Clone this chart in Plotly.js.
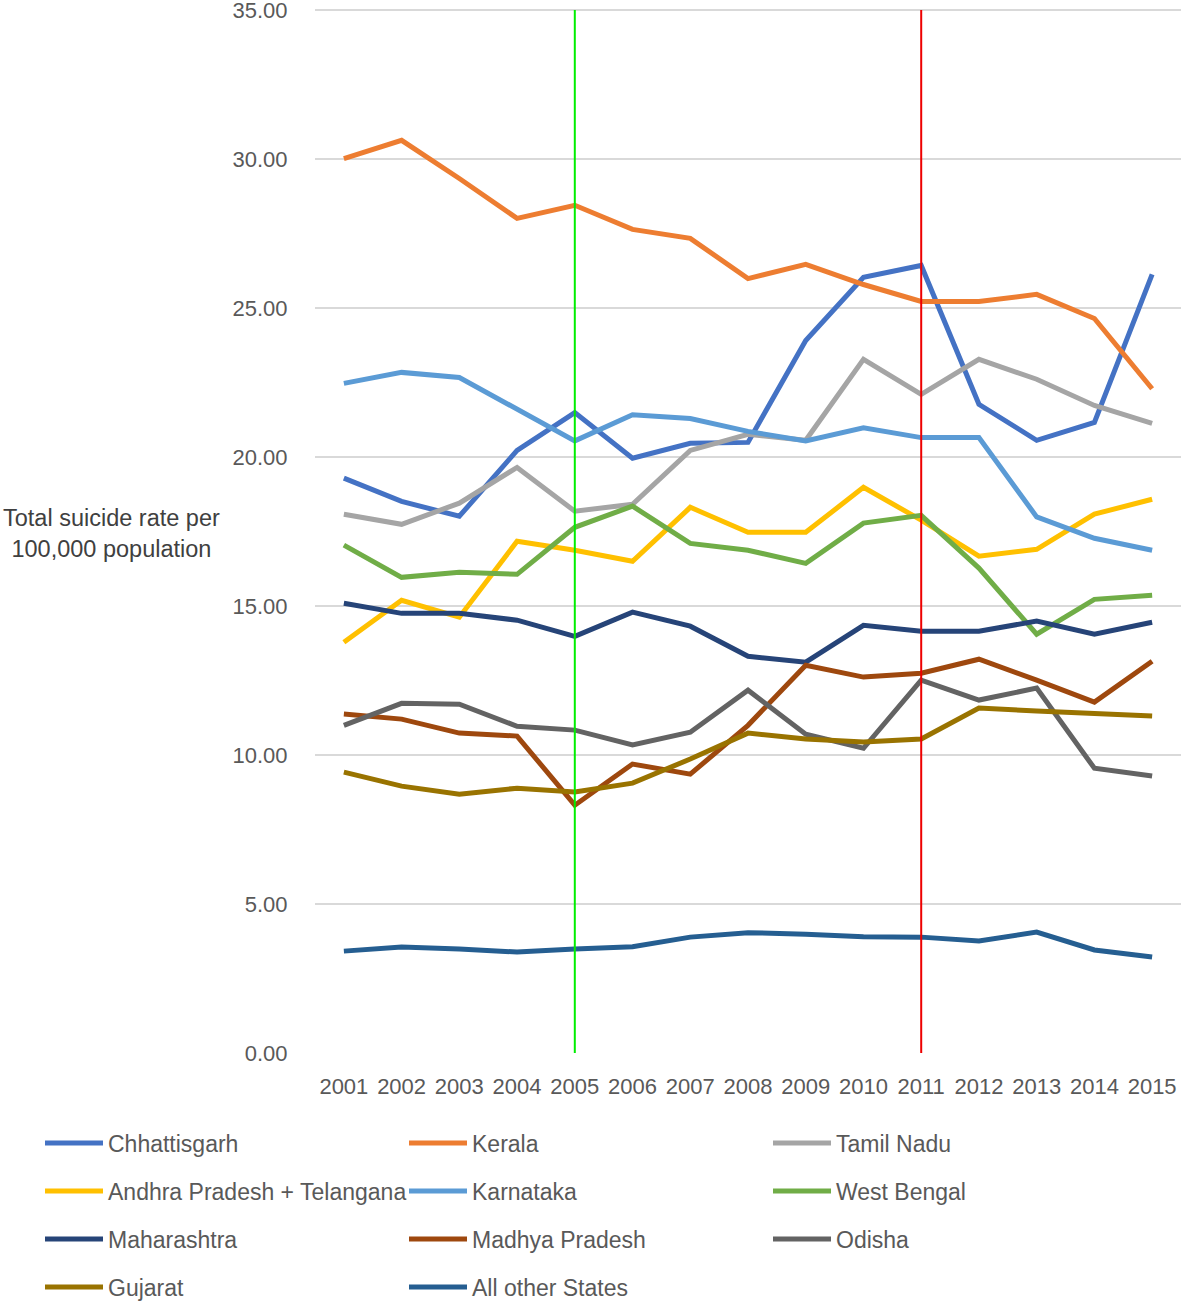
<!DOCTYPE html>
<html><head><meta charset="utf-8">
<script src="https://cdn.plot.ly/plotly-3.0.1.min.js"></script>
<style>html,body{margin:0;padding:0;background:#fff;}#chart{width:1181px;height:1302px;}</style>
</head><body><div id="chart"></div>
<script>
const years = [2001,2002,2003,2004,2005,2006,2007,2008,2009,2010,2011,2012,2013,2014,2015];
const chhattisgarh = [19.30,18.52,18.02,20.23,21.50,19.97,20.47,20.50,23.92,26.04,26.44,21.78,20.57,21.17,26.14];
const kerala       = [30.03,30.64,29.36,28.02,28.46,27.65,27.35,26.00,26.48,25.80,25.23,25.23,25.47,24.66,22.30];
const tamilNadu    = [18.09,17.75,18.46,19.66,18.19,18.42,20.23,20.77,20.57,23.29,22.11,23.29,22.62,21.74,21.14];
const andhra       = [13.79,15.20,14.63,17.18,16.88,16.51,18.32,17.48,17.48,18.99,17.89,16.68,16.91,18.09,18.59];
const karnataka    = [22.48,22.85,22.68,21.60,20.55,21.43,21.30,20.87,20.55,20.99,20.66,20.66,18.00,17.28,16.88];
const westBengal   = [17.05,15.97,16.14,16.07,17.65,18.36,17.11,16.88,16.44,17.79,18.05,16.28,14.06,15.23,15.37];
const maharashtra  = [15.10,14.76,14.76,14.53,13.99,14.80,14.33,13.32,13.12,14.36,14.16,14.16,14.50,14.06,14.46];
const madhyaPradesh= [11.38,11.21,10.74,10.64,8.32,9.70,9.36,11.00,13.02,12.62,12.75,13.22,12.52,11.78,13.15];
const odisha       = [11.00,11.74,11.71,10.97,10.84,10.34,10.77,12.18,10.70,10.23,12.52,11.85,12.25,9.56,9.30];
const gujarat      = [9.43,8.96,8.69,8.89,8.76,9.06,9.87,10.74,10.54,10.44,10.54,11.58,11.48,11.41,11.31];
const otherStates  = [3.42,3.56,3.49,3.39,3.49,3.57,3.89,4.04,3.99,3.90,3.89,3.76,4.06,3.46,3.22];
const markerYears = [2005, 2011];
const markerColors = ['#00EE00', '#EE0000'];
const yTicks = [0,5,10,15,20,25,30,35];

const series = [
  {name:'Chhattisgarh', y:chhattisgarh, color:'#4472C4', legend:'legend'},
  {name:'Kerala', y:kerala, color:'#ED7D31', legend:'legend'},
  {name:'Tamil Nadu', y:tamilNadu, color:'#A5A5A5', legend:'legend'},
  {name:'Andhra Pradesh + Telangana', y:andhra, color:'#FFC000', legend:'legend2'},
  {name:'Karnataka', y:karnataka, color:'#5B9BD5', legend:'legend2'},
  {name:'West Bengal', y:westBengal, color:'#70AD47', legend:'legend2'},
  {name:'Maharashtra', y:maharashtra, color:'#264478', legend:'legend3'},
  {name:'Madhya Pradesh', y:madhyaPradesh, color:'#9E480E', legend:'legend3'},
  {name:'Odisha', y:odisha, color:'#636363', legend:'legend3'},
  {name:'Gujarat', y:gujarat, color:'#997300', legend:'legend4'},
  {name:'All other States', y:otherStates, color:'#255E91', legend:'legend4'}
];

const FONT = 'Liberation Sans, Arial, sans-serif';
const traces = series.map(s => ({
  type:'scatter', mode:'lines', x:years, y:s.y, name:s.name,
  line:{color:s.color, width:5}, legend:s.legend
}));

const TOP = 9, BOT = 249, H = 1302 - TOP - BOT;
const rowY = [1143, 1191, 1239, 1287];
function mkLegend(i){
  return {
    orientation:'h', xref:'paper', yref:'paper',
    x: (40-315)/866, y: (1053-rowY[i])/H, xanchor:'left', yanchor:'middle',
    entrywidth:291, entrywidthmode:'pixels', itemwidth:58,
    font:{family:FONT, size:23, color:'#595959'}, bgcolor:'rgba(0,0,0,0)',
    traceorder:'normal'
  };
}

const shapes = markerYears.map((yr,i) => ({
  type:'line', xref:'x', yref:'paper', x0:yr, x1:yr, y0:0, y1:(1053-10)/H,
  line:{color:markerColors[i], width:2}, layer:'above'
}));

const layout = {
  width:1181, height:1302,
  margin:{l:315, r:0, t:TOP, b:BOT, autoexpand:false},
  paper_bgcolor:'#fff', plot_bgcolor:'#fff',
  showlegend:true,
  legend:mkLegend(0), legend2:mkLegend(1), legend3:mkLegend(2), legend4:mkLegend(3),
  xaxis:{range:[2000.5,2015.5], tickmode:'array', tickvals:years, ticktext:years.map(String),
    showgrid:false, zeroline:false, showline:false,
    ticks:'outside', ticklen:14, tickcolor:'rgba(0,0,0,0)',
    tickfont:{family:FONT, size:22, color:'#595959'}},
  yaxis:{range:[0,35.05], tickmode:'array', tickvals:yTicks, tickformat:'.2f',
    showgrid:true, gridcolor:'#D9D9D9', gridwidth:1.5, zeroline:false, showline:false,
    ticks:'outside', ticklen:22, tickcolor:'rgba(0,0,0,0)', ticklabeloverflow:'allow',
    tickfont:{family:FONT, size:22, color:'#595959'}},
  shapes: shapes,
  annotations:[{
    text:'Total suicide rate per<br>100,000 population', xref:'paper', yref:'paper',
    x:(111-315)/866, y:(1053-533)/H, xanchor:'center', yanchor:'middle', showarrow:false,
    font:{family:FONT, size:23.5, color:'#404040'}
  }]
};

Plotly.newPlot('chart', traces, layout, {displayModeBar:false});
</script></body></html>
